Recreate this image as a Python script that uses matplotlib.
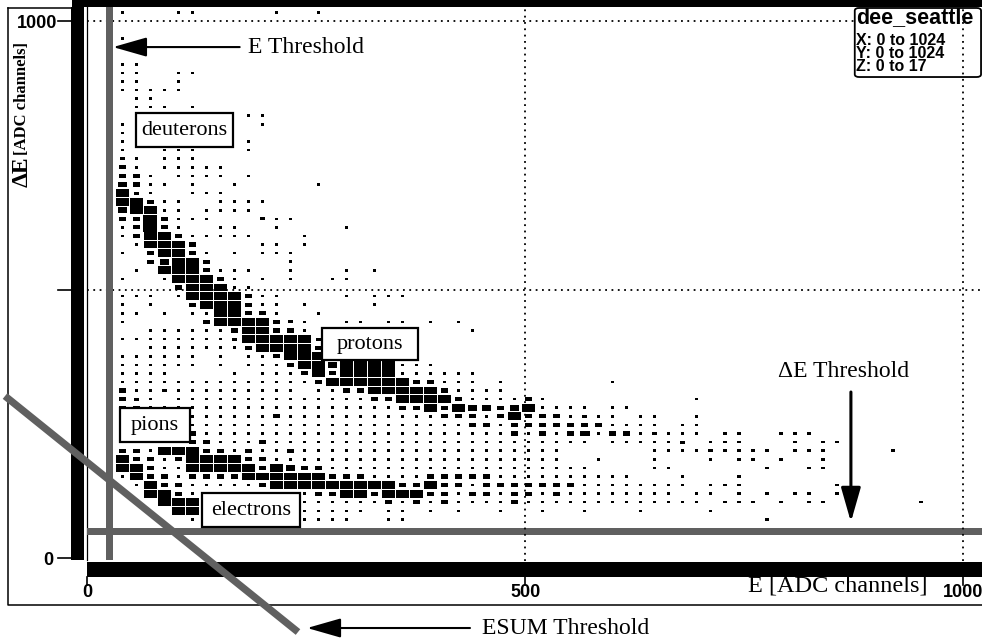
import numpy as np
import matplotlib.pyplot as plt
from matplotlib.patches import Rectangle, FancyBboxPatch

# dee_seattle: 64 x 64 bins of 16 ADC channels, box mode
BIN = 16
# box content per bin, one string per Delta-E bin row (first string = bin 63),
# one character per E bin (bin 0 first)
levels = {' ': 0, '.': 1, ':': 2, 'o': 4, 'O': 8, '#': 14, '@': 17}
de_rows = [
    "  .   ..     .  .",
    "",
    "",
    "  .",
    "",
    "",
    "  ..",
    "  ..  ..",
    "  ..  .",
    "  .....",
    "   ..",
    "   ... .",
    "           ..",
    "  .         .",
    "  .",
    "  .        .",
    "  .  ...   .",
    "  :. ...",
    "  o. .....",
    "  oo. .... .",
    "  Oo.. .  .     .",
    "  #:.  ...",
    "  ##o..  ....",
    "  O##.. ....",
    "  oo@o...   :..",
    "  .o@o.  ..  .    .",
    "  .o##o.....   .",
    "   .###o    .. .",
    "  . o##o. . ...",
    "    oO##o     .",
    "   . ###o...  .   . .",
    "  .  .###o. . .  ..",
    "      o###..",
    "  ... .####o..    . ...",
    "  . .  o###o.. .    .",
    "  .. . ..##oo.  .",
    "  .     o####o:.  .. .. . .",
    "    ......o##oo.           .",
    "  ........:#####:",
    "    .......o####o",
    "  ...... . ..o#####",
    "  ...... . ...o##O####...",
    "  ....    . ...o#o####......",
    "  ..............o######oo... .       .",
    "  o..:......... ..oo#####o....",
    "  o:. ..............oo####o....o.          .",
    "  oo..................oo#o#OOoO#.... ..",
    "       ......o...........ooo.o#ooo.:.. ..  .",
    "       ....................oo.ooooooo.... ..",
    "       o......................o.o.oO.oo.:... ..  ...",
    "       oo...o....................... .....: ...   . ..",
    "  oo.###oo.o..o...................      ....:.... ...    .",
    "  #oo.o####oo.....................  .   .   . .. .  .",
    "  ##o..#####o#Ooo...................    ..      .  ..",
    "  .#oo.oooo######ooo....ooooo..........   .   .",
    "   .#oo.....o#########oo#oo.ooooooo........ ...      .",
    "    ##o.........oo##o###oo.oo.oo.o........ .. . . .. .",
    "     ###       ......o.o.o....o............. ... . ..      .",
    "      ##       ..... .. . .  .  .  .   .    .",
    "       .       ....  ..                         .",
]

# cuts (ADC channels)
e_cut = (21.4, 29.4)
de_cut = (42.9, 55.9)
esum_e = [-94.0, 240.6]
esum_de = [301.8, -137.9]

particles = ["deuterons", "protons", "pions", "electrons"]
label_boxes = [(55.6, 765.8, 110.8, 63.3), (267.9, 368.9, 109.6, 59.6),
               (37.5, 216.1, 79.8, 63.4), (131.1, 57.8, 111.9, 63.3)]

serif = 'Liberation Serif'
narrow = ['Liberation Sans Narrow', 'Liberation Sans', 'DejaVu Sans']

fig = plt.figure(figsize=(9.82, 6.41), dpi=100)
ax = fig.add_axes([0, 0, 1, 1])
ax.set_xlim(-99.7, 1021.7)
ax.set_ylim(-154.6, 1039.7)
ax.axis('off')

# boxes
e_c, de_c, n_c = [], [], []
for r, row in enumerate(de_rows):
    j = 63 - r
    for i, ch in enumerate(row):
        if levels[ch]:
            e_c.append(i * BIN + BIN / 2)
            de_c.append(j * BIN + BIN / 2)
            n_c.append(levels[ch])
e_c, de_c, n_c = np.array(e_c), np.array(de_c), np.array(n_c)
frac = np.sqrt(n_c / 17.0)
w = BIN * frac
h = np.maximum(BIN * frac, 4.8)
ax.bar(e_c, h, width=w, bottom=de_c - h / 2, color='black', linewidth=0, zorder=2)

# dotted grid
dots = dict(color='black', lw=1.3, linestyle=(0, (1, 2.5)))
for v in (500, 1000):
    ax.plot([0, 1021.7], [v, v], zorder=3, **dots)
    ax.plot([v, v], [-5, 1026], zorder=6, **dots)

# frame and projection bars
ax.plot([-90.6, -90.6, 1021.7], [1024.8, -87.6, -87.6], color='black', lw=1.1, zorder=4)
ax.plot([-90.6, -17.5], [1024.8, 1024.8], color='black', lw=1.1, zorder=4)
ax.add_patch(Rectangle((-17.5, 1026.6), 1040, 14, color='black', lw=0, zorder=4))
ax.add_patch(Rectangle((-18.6, -3.7), 14.8, 1030.3, color='black', lw=0, zorder=4))
ax.plot([0, 0], [-3.7, 1026], color='black', lw=0.9, zorder=4)
ax.add_patch(Rectangle((0, -35.4), 1021.7, 27.9, color='black', lw=0, zorder=4))

# ticks
for v, s in zip([0, 500, 1000], ["0", "500", "1000"]):
    ax.plot([v, v], [-35.4, -50.3], color='black', lw=1.2, zorder=4)
    ax.text(v, -64.5, s, ha='center', va='center', fontsize=13, fontweight='bold',
            family=narrow)
    ax.plot([-33.5, -18.6], [v, v], color='black', lw=1.2, zorder=4)
ax.text(-57.4, 995, "1000", ha='center', va='center', fontsize=13, fontweight='bold',
        family=narrow)
ax.text(-44.9, -5, "0", ha='center', va='center', fontsize=13, fontweight='bold',
        family=narrow)

# axis titles
ax.text(-74.6, 719, "ΔE", rotation=90, ha='center', va='center', fontsize=17,
        fontweight='bold', family=serif)
ax.text(-74.6, 857, "[ADC channels]", rotation=90, ha='center', va='center',
        fontsize=12, fontweight='bold', family=serif)
ax.text(960, -51.5, "E [ADC channels]", ha='right', va='center', fontsize=17.5,
        family=serif, zorder=7)

# thresholds
grey = '#606060'
ax.add_patch(Rectangle((e_cut[0], -3.7), e_cut[1] - e_cut[0], 1029.7, color=grey,
                       lw=0, zorder=4))
ax.add_patch(Rectangle((0, de_cut[0]), 1021.7, de_cut[1] - de_cut[0], color=grey,
                       lw=0, zorder=4))
ax.plot(esum_e, esum_de, color=grey, lw=5.2, solid_capstyle='butt', zorder=4,
        clip_on=False)

arr = dict(arrowstyle='-|>,head_length=1.05,head_width=0.3', color='black', lw=1.5,
           mutation_scale=20, shrinkA=0, shrinkB=0)
ax.annotate('', xy=(29.4, 952), xytext=(174, 952), arrowprops=arr, zorder=7)
ax.text(183.5, 952, "E Threshold", ha='left', va='center', fontsize=17, family=serif)
ax.annotate('', xy=(872, 67.1), xytext=(872, 309.3),
            arrowprops=dict(arr, lw=2.2), zorder=7)
ax.text(864, 348.4, "ΔE Threshold", ha='center', va='center', fontsize=17, family=serif)
ax.annotate('', xy=(251, -130.4), xytext=(437, -130.4), arrowprops=arr, zorder=7)
ax.text(450.8, -130.4, "ESUM Threshold", ha='left', va='center', fontsize=17,
        family=serif)

# particle labels
for name, (x0, y0, bw, bh) in zip(particles, label_boxes):
    ax.add_patch(Rectangle((x0, y0), bw, bh, facecolor='white', edgecolor='black',
                           lw=1.6, zorder=5))
    ax.text(x0 + bw / 2, y0 + bh / 2, name, ha='center', va='center', fontsize=16,
            family=serif, zorder=6)

# histogram info box
ax.add_patch(FancyBboxPatch((876.4, 896.2), 144.2, 128.6,
                            boxstyle="round,pad=0,rounding_size=5",
                            facecolor='white', edgecolor='black', lw=1.3, zorder=5))
ax.text(877.6, 1007, "dee_seattle", ha='left', va='center', fontsize=15.5,
        fontweight='bold', family=narrow, zorder=5.5)
ax.text(877.6, 940, "X: 0 to 1024\nY: 0 to 1024\nZ: 0 to 17", ha='left', va='center',
        fontsize=11.5, fontweight='bold', family=narrow, linespacing=0.82, zorder=5.5)

fig.savefig("out.png", dpi=100)
